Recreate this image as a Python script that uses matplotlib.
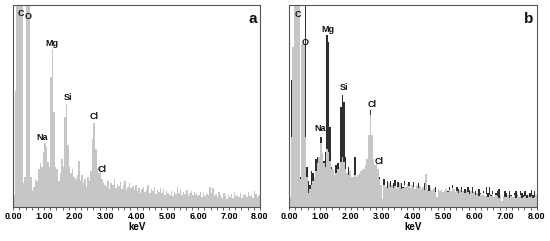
import numpy as np
import matplotlib.pyplot as plt

# channel edges, 0.05 keV wide
edges = np.round(np.arange(0, 8.0001, 0.05), 3)

# spectrum a (heights in arbitrary counts, full scale = 202)
spec_a = [12, 116, 250, 250, 250, 250, 24, 30, 250, 250,
          250, 30, 16, 20, 28, 26, 38, 44, 40, 55,
          64, 60, 45, 40, 130, 158, 95, 40, 38, 26,
          34, 48, 40, 90, 103, 62, 40, 34, 38, 30,
          28, 32, 46, 26, 32, 24, 28, 20, 30, 26,
          36, 68, 84, 58, 38, 34, 40, 28, 24, 22,
          20, 26, 18, 24, 22, 28, 19, 23, 21, 25,
          18, 22, 26, 17, 20, 24, 19, 21, 17, 22,
          16, 19, 14, 18, 20, 15, 17, 22, 14, 18,
          16, 20, 13, 17, 15, 19, 14, 18, 12, 16,
          14, 12, 16, 11, 15, 13, 20, 14, 18, 12,
          15, 13, 17, 11, 14, 16, 12, 15, 13, 11,
          12, 15, 10, 14, 11, 13, 12, 20, 14, 19,
          11, 13, 10, 15, 12, 9, 14, 11, 8, 12,
          10, 13, 9, 15, 11, 12, 10, 14, 9, 12,
          13, 10, 15, 11, 12, 9, 16, 13, 10, 12]

# spectrum b: light series (front) and dark series (behind)
spec_b_light = [10, 70, 160, 250, 250, 250, 250, 28, 163, 163,
                70, 30, 14, 18, 22, 26, 30, 36, 44, 50,
                64, 54, 44, 40, 58, 55, 46, 38, 38, 32,
                34, 38, 40, 45, 50, 45, 38, 34, 32, 36,
                30, 30, 32, 30, 32, 34, 36, 38, 38, 42,
                48, 72, 92, 72, 48, 42, 44, 38, 28, 22,
                8, 22, 20, 19, 24, 20, 22, 19, 21, 18,
                20, 24, 18, 19, 22, 20, 23, 21, 19, 22,
                20, 18, 22, 19, 21, 18, 20, 17, 33, 18,
                16, 20, 17, 19, 15, 10, 18, 16, 17, 15,
                16, 18, 15, 17, 16, 19, 18, 15, 16, 14,
                17, 15, 16, 14, 17, 15, 13, 16, 14, 15,
                12, 14, 11, 13, 12, 14, 11, 13, 10, 12,
                11, 13, 10, 12, 11, 9, 12, 6, 11, 10,
                10, 12, 9, 11, 10, 12, 9, 11, 10, 12,
                9, 10, 11, 9, 12, 10, 11, 9, 10, 12]
spec_b_dark = [10, 127, 150, 250, 250, 250, 250, 30, 62, 60,
               250, 40, 26, 22, 36, 34, 30, 48, 50, 44,
               70, 48, 46, 55, 172, 165, 80, 40, 30, 28,
               42, 44, 30, 100, 112, 105, 50, 30, 40, 32,
               26, 22, 50, 30, 24, 26, 28, 30, 28, 30,
               32, 60, 97, 60, 35, 30, 30, 28, 30, 20,
               6, 28, 18, 26, 20, 26, 18, 24, 27, 16,
               25, 18, 24, 20, 26, 18, 20, 25, 17, 18,
               25, 16, 20, 24, 18, 16, 18, 24, 20, 16,
               22, 18, 14, 16, 20, 8, 16, 14, 15, 13,
               14, 12, 16, 20, 14, 22, 18, 12, 20, 18,
               14, 20, 12, 18, 16, 20, 17, 12, 20, 13,
               16, 12, 18, 14, 10, 16, 10, 20, 14, 20,
               12, 16, 10, 14, 16, 18, 12, 5, 10, 16,
               14, 10, 16, 12, 10, 14, 16, 12, 10, 16,
               14, 12, 16, 12, 10, 14, 17, 12, 16, 12]

xticks = [0, 1, 2, 3, 4, 5, 6, 7, 8]
xticklabels = ["0.00", "1.00", "2.00", "3.00", "4.00", "5.00", "6.00", "7.00", "8.00"]

labels_a = [("C", 0.24, 194), ("O", 0.49, 191), ("Mg", 1.25, 164), ("Si", 1.77, 110),
            ("Na", 0.95, 70), ("Cl", 2.62, 91), ("Cl", 2.87, 38)]
labels_b = [("C", 0.27, 193), ("O", 0.52, 165), ("Mg", 1.27, 178), ("Si", 1.76, 120),
            ("Na", 1.0, 79), ("Cl", 2.68, 103), ("Cl", 2.92, 46)]

light = "#c6c6c6"
dark = "#2e2e2e"
plt.rcParams['font.family'] = ['Liberation Sans', 'DejaVu Sans']

fig = plt.figure(figsize=(5.5, 2.41), dpi=100)
ax_a = fig.add_axes([0.0242, 0.141, 0.4485, 0.838])
ax_b = fig.add_axes([0.5255, 0.141, 0.4505, 0.838])


def style(ax, letter, labels):
    ax.set_xlim(0, 8)
    ax.set_ylim(0, 202)
    ax.set_yticks([])
    ax.set_xticks(xticks)
    ax.set_xticklabels(xticklabels, fontsize=6.5, fontweight='bold')
    ax.set_xticks(np.arange(0, 8.01, 0.2), minor=True)
    ax.tick_params(axis='x', which='both', length=2, width=0.6, pad=1.5, color='#444')
    for s in ax.spines.values():
        s.set_color('#555')
        s.set_linewidth(0.8)
    ax.set_xlabel("keV", fontsize=7, fontweight='bold', labelpad=1)
    for txt, x, y in labels:
        ax.text(x, y, txt, ha='center', va='center', fontsize=6.5, fontweight='bold', color='#111')
    ax.text(7.75, 188, letter, ha='center', va='center', fontsize=11, fontweight='bold', color='#111')


ax_a.stairs(spec_a, edges, fill=True, color=light, linewidth=0)
style(ax_a, "a", labels_a)

ax_b.stairs(spec_b_dark, edges, fill=True, color=dark, linewidth=0)
ax_b.stairs(spec_b_light, edges, fill=True, color=light, linewidth=0)
style(ax_b, "b", labels_b)

fig.savefig("out.png", dpi=100)
